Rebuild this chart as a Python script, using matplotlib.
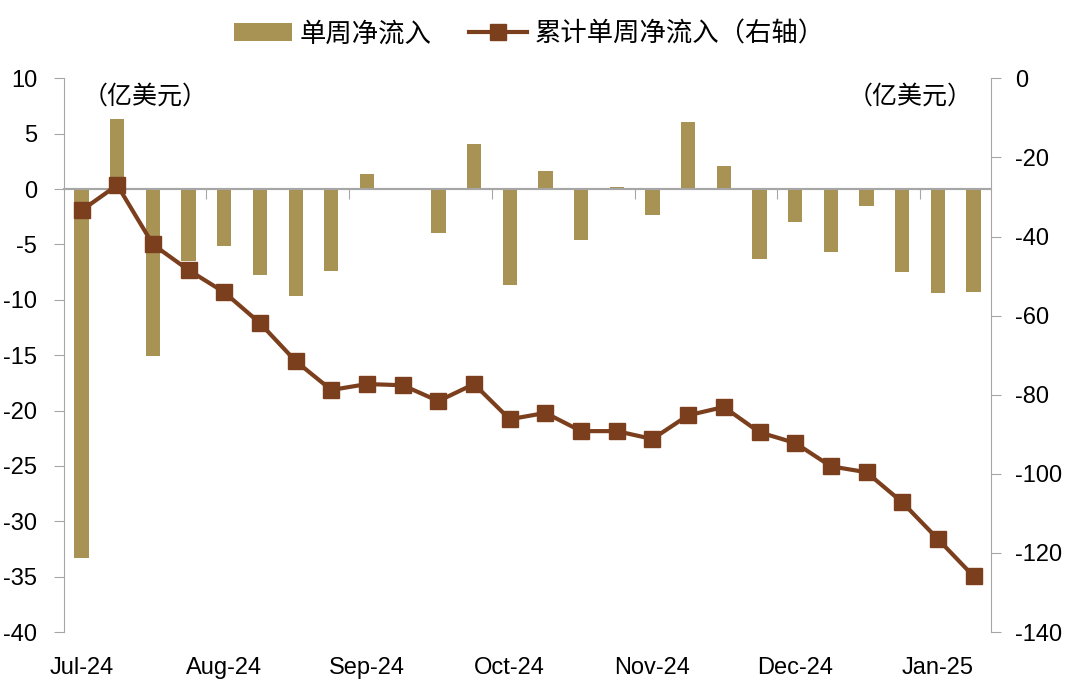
import matplotlib.pyplot as plt
import numpy as np

plt.rcParams['font.family'] = ['Liberation Sans', 'Noto Sans CJK SC', 'DejaVu Sans']
plt.rcParams['axes.unicode_minus'] = False

# weekly net inflow (left axis) and cumulative (right axis), 亿美元
weekly = [-33.3, 6.3, -15.1, -6.5, -5.1, -7.8, -9.7, -7.4, 1.4, 0.05, -4.0, 4.1, -8.7,
          1.6, -4.6, 0.15, -2.3, 6.1, 2.1, -6.3, -3.0, -5.7, -1.5, -7.5, -9.4, -9.3]
cumulative = [-33.4, -27.0, -42.0, -48.5, -54.1, -61.9, -71.5, -78.8, -77.3, -77.6, -81.6,
              -77.3, -86.2, -84.6, -89.2, -89.2, -91.2, -85.2, -83.1, -89.5, -92.2, -98.1,
              -99.6, -107.2, -116.5, -125.9]
month_labels = ['Jul-24', 'Aug-24', 'Sep-24', 'Oct-24', 'Nov-24', 'Dec-24', 'Jan-25']

bar_color = '#A89254'
line_color = '#7B3F1E'
axis_gray = '#A6A6A6'
cjk = ['Noto Sans CJK SC', 'DejaVu Sans']

x = np.arange(len(weekly))

fig = plt.figure(figsize=(10.8, 6.87), dpi=100)
ax = fig.add_axes([0.059, 0.080, 0.859, 0.806])
ax2 = ax.twinx()

bars = ax.bar(x, weekly, width=0.4, color=bar_color, zorder=2, label='单周净流入')
line, = ax2.plot(x, cumulative, color=line_color, lw=3, marker='s', markersize=11.5,
                 zorder=3, label='累计单周净流入（右轴）')

ax.set_xlim(-0.5, len(weekly) - 0.5)
ax.set_ylim(-40, 10)
ax2.set_ylim(-140, 0)
ax.set_yticks(np.arange(-40, 11, 5))
ax2.set_yticks(np.arange(-140, 1, 20))

for a in (ax, ax2):
    for s in ['top', 'bottom']:
        a.spines[s].set_visible(False)
ax.spines['right'].set_visible(False)
ax2.spines['left'].set_visible(False)
ax.spines['left'].set_color(axis_gray)
ax2.spines['right'].set_color(axis_gray)

ax.tick_params(axis='y', direction='out', length=7, color=axis_gray, labelsize=17, pad=12)
ax2.tick_params(axis='y', direction='out', length=7, color=axis_gray, labelsize=17, pad=10)

# zero line with ticks between month groups
ax.axhline(0, color=axis_gray, lw=1.5, zorder=1)
ax.set_xticks(np.arange(3.5, len(weekly), 4))
ax.tick_params(axis='x', direction='out', length=7, color=axis_gray, labelbottom=False)
ax.spines['bottom'].set_position(('data', 0))
ax.spines['bottom'].set_visible(True)
ax.spines['bottom'].set_color(axis_gray)
ax.spines['bottom'].set_linewidth(1.5)

sec = ax.secondary_xaxis('bottom')
sec.set_xticks(np.arange(0, len(weekly), 4), month_labels)
sec.tick_params(length=0, labelsize=17, pad=18)
sec.spines['bottom'].set_visible(False)

ax.text(0.02, 0.99, '（亿美元）', transform=ax.transAxes, fontsize=18, family=cjk,
        ha='left', va='top')
ax2.text(0.98, 0.99, '（亿美元）', transform=ax2.transAxes, fontsize=18, family=cjk,
         ha='right', va='top')

fig.legend(handles=[bars, line], loc='upper center', bbox_to_anchor=(0.49, 1.005), ncol=2,
           frameon=False, prop={'family': cjk, 'size': 19}, handlelength=2.2,
           handletextpad=0.3, columnspacing=1.4)

fig.savefig('out.png', dpi=100)
